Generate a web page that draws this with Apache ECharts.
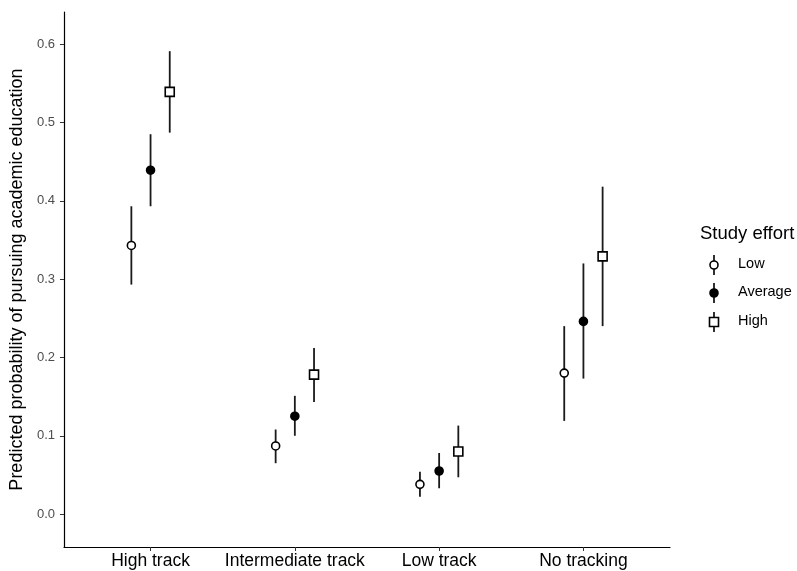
<!DOCTYPE html>
<html><head><meta charset="utf-8">
<script src="https://cdn.jsdelivr.net/npm/echarts@6/dist/echarts.min.js"></script>
<style>html,body{margin:0;padding:0;background:#fff}#c{width:797px;height:571px}</style>
</head><body><div id="c"></div>
<script>
const categories = ['High track', 'Intermediate track', 'Low track', 'No tracking'];
const groups = ['Low', 'Average', 'High'];
const lowEst = [0.343, 0.087, 0.038, 0.180];
const lowLo  = [0.293, 0.065, 0.022, 0.119];
const lowHi  = [0.393, 0.108, 0.054, 0.240];
const avgEst = [0.439, 0.125, 0.055, 0.246];
const avgLo  = [0.393, 0.100, 0.033, 0.173];
const avgHi  = [0.485, 0.151, 0.078, 0.320];
const highEst = [0.539, 0.178, 0.080, 0.329];
const highLo  = [0.487, 0.143, 0.047, 0.240];
const highHi  = [0.591, 0.212, 0.113, 0.418];
const yTicks = [0, 0.1, 0.2, 0.3, 0.4, 0.5, 0.6];

const FONT = '"Liberation Sans", Arial, sans-serif';
const dodge = [-0.133, 0, 0.133];
const est = [lowEst, avgEst, highEst];
const lo = [lowLo, avgLo, highLo];
const hi = [lowHi, avgHi, highHi];
const symbols = ['circle', 'circle', 'rect'];
const sizes = [8, 8, 9];
const fills = ['#fff', '#000', '#fff'];

const series = [];
groups.forEach((g, gi) => {
  series.push({
    type: 'custom', name: g + ' CI', z: 2,
    data: categories.map((c, i) => [i + 1 + dodge[gi], lo[gi][i], hi[gi][i]]),
    renderItem: function (params, api) {
      const p1 = api.coord([api.value(0), api.value(1)]);
      const p2 = api.coord([api.value(0), api.value(2)]);
      return { type: 'line', shape: { x1: p1[0], y1: p1[1], x2: p2[0], y2: p2[1] },
        style: { stroke: '#1a1a1a', lineWidth: 1.8 } };
    }
  });
  series.push({
    type: 'scatter', name: g, z: 3,
    symbol: symbols[gi], symbolSize: sizes[gi],
    itemStyle: { color: fills[gi], borderColor: '#000', borderWidth: 1.6, opacity: 1 },
    data: categories.map((c, i) => [i + 1 + dodge[gi], est[gi][i]])
  });
});

const legendY = [265, 293, 322];
const graphics = [{ type: 'text', left: 700, top: 224, style: { text: 'Study effort', fontSize: 18.5, fontFamily: FONT, fill: '#000' } }];
groups.forEach((g, gi) => {
  const y = legendY[gi];
  graphics.push({ type: 'line', shape: { x1: 714, y1: y - 10, x2: 714, y2: y + 10 }, style: { stroke: '#1a1a1a', lineWidth: 1.8 } });
  if (gi === 2) {
    graphics.push({ type: 'rect', shape: { x: 709.5, y: y - 4.5, width: 9, height: 9 }, style: { fill: '#fff', stroke: '#000', lineWidth: 1.6 } });
  } else {
    graphics.push({ type: 'circle', shape: { cx: 714, cy: y, r: 4 }, style: { fill: fills[gi], stroke: '#000', lineWidth: 1.6 } });
  }
  graphics.push({ type: 'text', left: 738, top: y - 8.5, style: { text: g, fontSize: 14.5, fontFamily: FONT, fill: '#000' } });
});

const chart = echarts.init(document.getElementById('c'), null, { renderer: 'canvas' });
chart.setOption({
  animation: false,
  backgroundColor: '#fff',
  grid: { left: 63, right: 127, top: 12, bottom: 24, containLabel: false },
  xAxis: {
    type: 'value', min: 0.4, max: 4.6,
    splitLine: { show: false },
    axisLine: { show: true, onZero: false, lineStyle: { color: '#000', width: 1.2 } },
    axisTick: { show: true, length: 4, customValues: [1, 2, 3, 4], lineStyle: { color: '#333' } },
    axisLabel: { customValues: [1, 2, 3, 4], formatter: v => categories[Math.round(v) - 1], fontSize: 17.5, color: '#000', fontFamily: FONT, margin: 5 }
  },
  yAxis: {
    type: 'value', min: -0.042, max: 0.641,
    name: 'Predicted probability of pursuing academic education',
    nameLocation: 'middle', nameGap: 35,
    nameTextStyle: { fontSize: 18, color: '#000', fontFamily: FONT },
    splitLine: { show: false },
    axisLine: { show: true, onZero: false, lineStyle: { color: '#000', width: 1.2 } },
    axisTick: { show: true, length: 4, customValues: yTicks, lineStyle: { color: '#333' } },
    axisLabel: { customValues: yTicks, formatter: v => v.toFixed(1), fontSize: 13, color: '#4d4d4d', fontFamily: FONT, margin: 9 }
  },
  graphic: graphics,
  series: series
});
</script></body></html>
